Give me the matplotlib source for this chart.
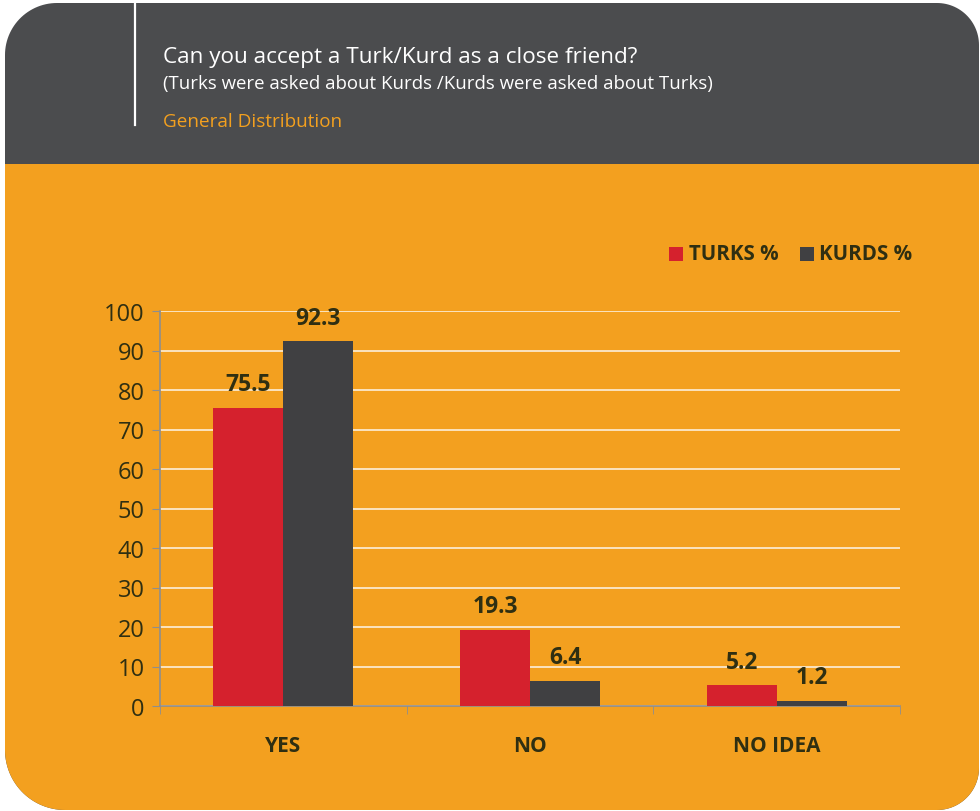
import numpy as np
import matplotlib.pyplot as plt
from matplotlib.path import Path
from matplotlib.patches import PathPatch, Rectangle

# data
categories = ['YES', 'NO', 'NO IDEA']
turks = [75.5, 19.3, 5.2]
kurds = [92.3, 6.4, 1.2]
series_names = ['TURKS %', 'KURDS %']
yticks = [0, 10, 20, 30, 40, 50, 60, 70, 80, 90, 100]

orange = '#F3A01F'
dark = '#4B4C4E'
red = '#D5212D'
barDark = '#404042'
txt = '#2F2F12'

plt.rcParams['font.family'] = ['Open Sans', 'DejaVu Sans']

fig = plt.figure(figsize=(9.8, 8.12), dpi=100)
fig.patch.set_facecolor('white')

# background card in pixel coords
bg = fig.add_axes([0, 0, 1, 1])
bg.set_xlim(0, 980)
bg.set_ylim(812, 0)
bg.axis('off')


def rounded_card(x0, y0, x1, y1, r_tl, r_tr, r_br, r_bl):
    pts = []
    def arc(cx, cy, r, a0, a1):
        t = np.linspace(np.radians(a0), np.radians(a1), 30)
        return list(zip(cx + r * np.cos(t), cy + r * np.sin(t)))
    # y axis points down
    pts += arc(x0 + r_tl, y0 + r_tl, r_tl, 180, 270)
    pts += arc(x1 - r_tr, y0 + r_tr, r_tr, 270, 360)
    pts += arc(x1 - r_br, y1 - r_br, r_br, 0, 90)
    pts += arc(x0 + r_bl, y1 - r_bl, r_bl, 90, 180)
    pts.append(pts[0])
    return Path(pts, closed=True)


card = PathPatch(rounded_card(5, 4, 979, 811, 52, 42, 42, 60),
                 facecolor=dark, edgecolor='none')
bg.add_patch(card)
lower = Rectangle((0, 165), 980, 660, facecolor=orange, edgecolor='none')
bg.add_patch(lower)
lower.set_clip_path(card)
bg.plot([135, 135], [4, 126], color='white', lw=1.6)

bg.text(163, 57, 'Can you accept a Turk/Kurd as a close friend?', color='white',
        fontsize=16.2, va='center', ha='left')
bg.text(163, 84, '(Turks were asked about Kurds /Kurds were asked about Turks)',
        color='white', fontsize=13.4, va='center', ha='left')
bg.text(163, 122, 'General Distribution', color=orange, fontsize=13.6,
        va='center', ha='left')

# legend
bg.add_patch(Rectangle((669, 248), 14, 14, facecolor=red, edgecolor='none'))
bg.text(689, 255, series_names[0], color=txt, fontsize=14.8, fontweight='bold',
        va='center', ha='left')
bg.add_patch(Rectangle((800, 248), 14, 14, facecolor=barDark, edgecolor='none'))
bg.text(819, 255, series_names[1], color=txt, fontsize=14.8, fontweight='bold',
        va='center', ha='left')

# chart
ax = fig.add_axes([160 / 980, 1 - 707 / 812, 740 / 980, 395 / 812])
ax.patch.set_alpha(0)
x = np.arange(len(categories))
w = 0.284
b1 = ax.bar(x - w / 2, turks, w, color=red, zorder=3)
b2 = ax.bar(x + w / 2, kurds, w, color=barDark, zorder=3)
for bars, vals in [(b1, turks), (b2, kurds)]:
    for rect, v in zip(bars, vals):
        ax.text(rect.get_x() + rect.get_width() / 2, v + 3.0, f'{v}',
                ha='center', va='bottom', fontsize=16.5, fontweight='bold',
                color=txt)

ax.set_xlim(-0.5, 2.5)
ax.set_ylim(0, 100)
ax.set_yticks(yticks)
ax.yaxis.grid(True, color='#FBE9CB', lw=1.3, zorder=0)
ax.set_xticks(x)
ax.set_xticklabels(categories, fontweight='bold', fontsize=15, color=txt)
ax.set_xticks([-0.5, 0.5, 1.5, 2.5], minor=True)
ax.tick_params(axis='x', which='major', length=0, pad=21)
ax.tick_params(axis='x', which='minor', length=6, color='#8E8E8E', direction='out')
ax.tick_params(axis='y', length=6, color='#8E8E8E', labelsize=17,
               labelcolor=txt, pad=5)
for s in ['top', 'right']:
    ax.spines[s].set_visible(False)
for s in ['left', 'bottom']:
    ax.spines[s].set_color('#8E8E8E')
    ax.spines[s].set_linewidth(1.2)

fig.savefig('out.png', dpi=100, facecolor='white')
